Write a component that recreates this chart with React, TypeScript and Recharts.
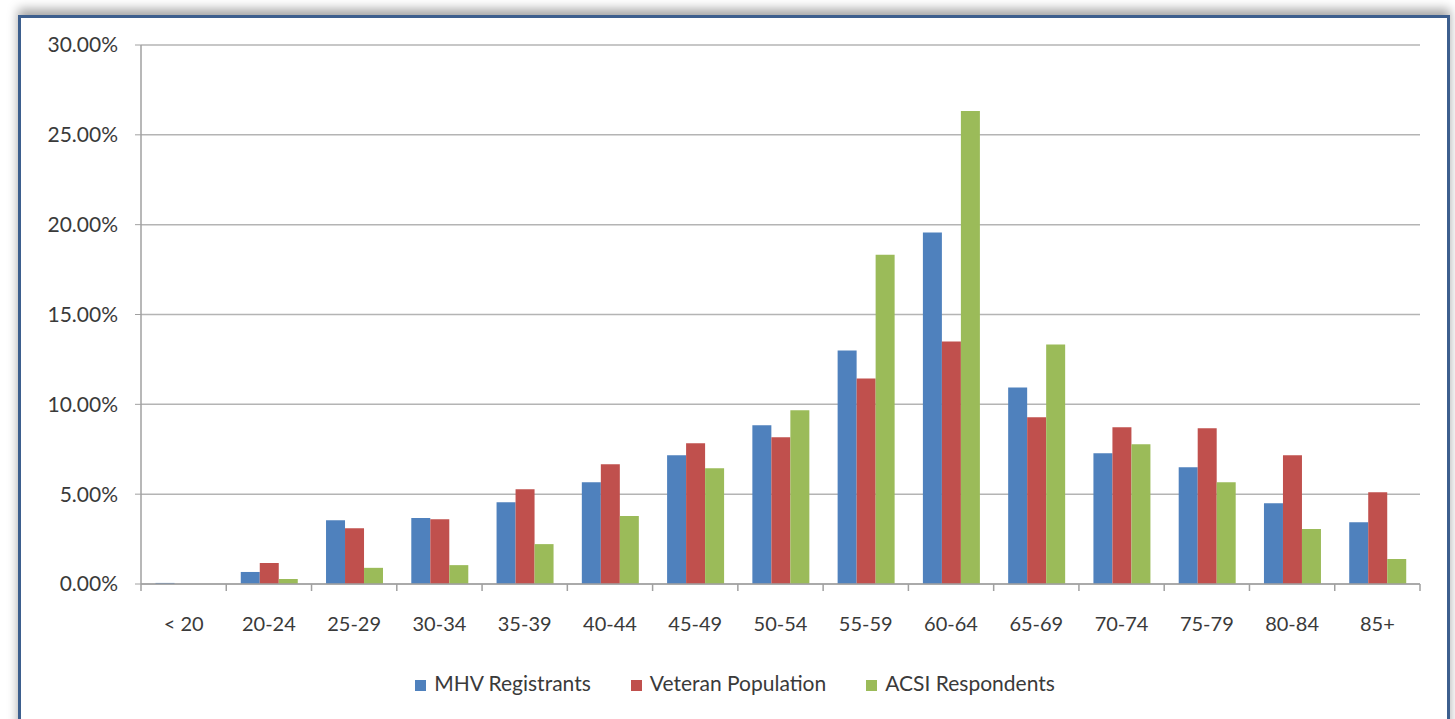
import React from 'react';
import { BarChart, Bar, XAxis, YAxis, CartesianGrid, Legend } from 'recharts';

const ageGroups = ['< 20', '20-24', '25-29', '30-34', '35-39', '40-44', '45-49', '50-54', '55-59', '60-64', '65-69', '70-74', '75-79', '80-84', '85+'];
const mhvRegistrants = [0.06, 0.67, 3.55, 3.67, 4.55, 5.67, 7.17, 8.83, 13.0, 19.56, 10.94, 7.28, 6.5, 4.5, 3.44];
const veteranPopulation = [0, 1.17, 3.1, 3.6, 5.28, 6.67, 7.83, 8.17, 11.44, 13.5, 9.28, 8.72, 8.67, 7.17, 5.11];
const acsiRespondents = [0, 0.28, 0.9, 1.05, 2.22, 3.78, 6.44, 9.67, 18.33, 26.33, 13.33, 7.78, 5.67, 3.06, 1.39];
const yTicks = [0, 5, 10, 15, 20, 25, 30];
const seriesOrder = ['mhv', 'vet', 'acsi'];

const data = ageGroups.map((age, i) => ({
  age,
  mhv: mhvRegistrants[i],
  vet: veteranPopulation[i],
  acsi: acsiRespondents[i],
}));

const font = 'Lato, "Open Sans", sans-serif';
const textColor = '#3a3a3a';
const axisColor = '#a0a0a0';

// category label plus tick marks on the category boundaries
const AgeTick = (props: any) => {
  const { x, y, payload, index } = props;
  const half = payload.offset || 0;
  const axisY = y - 33;
  const isLast = index === ageGroups.length - 1;
  return (
    <g>
      <line x1={x - half} x2={x - half} y1={axisY} y2={axisY + 7} stroke={axisColor} strokeWidth={1.5} />
      {isLast && <line x1={x + half} x2={x + half} y1={axisY} y2={axisY + 7} stroke={axisColor} strokeWidth={1.5} />}
      <text x={x} y={y} dy="0.71em" textAnchor="middle" fill={textColor} fontSize={20} fontFamily={font}>
        {payload.value}
      </text>
    </g>
  );
};

const App: React.FC = () => {
  return (
    <div style={{ position: 'absolute', left: 0, top: 0, width: 1455, height: 719, background: '#fff', overflow: 'hidden', fontFamily: font }}>
      <div
        style={{
          position: 'absolute',
          left: 18,
          top: 15,
          width: 1432,
          height: 740,
          border: '3px solid #3d5f8e',
          boxShadow: '0 -6px 10px rgba(0,0,0,0.35)',
          boxSizing: 'border-box',
        }}
      />
      <div style={{ position: 'absolute', left: 0, top: 0 }}>
        <BarChart
          width={1455}
          height={719}
          data={data}
          margin={{ top: 45, right: 35, bottom: 24, left: 0 }}
          barCategoryGap="17%"
          barGap={0}
        >
          <CartesianGrid vertical={false} stroke="#b4b4b4" strokeWidth={1.5} />
          <XAxis
            dataKey="age"
            height={86}
            tickLine={false}
            tickSize={6}
            tickMargin={27}
            axisLine={{ stroke: axisColor, strokeWidth: 1.5 }}
            tick={<AgeTick />}
            interval={0}
          />
          <YAxis
            width={141}
            domain={[0, 30]}
            ticks={yTicks}
            tickFormatter={(v: number) => `${v.toFixed(2)}%`}
            tick={{ fill: textColor, fontSize: 21, fontFamily: font }}
            tickSize={6}
            tickMargin={17}
            tickLine={{ stroke: axisColor }}
            axisLine={{ stroke: axisColor, strokeWidth: 1.5 }}
          />
          <Legend
            verticalAlign="bottom"
            iconType="square"
            iconSize={11}
            itemSorter={(item: any) => seriesOrder.indexOf(item.dataKey)}
            wrapperStyle={{ fontSize: 21, fontFamily: font, color: textColor, paddingLeft: 45 }}
            formatter={(value: string) => (
              <span style={{ color: textColor, marginLeft: 4, marginRight: 30 }}>{value}</span>
            )}
          />
          <Bar dataKey="mhv" name="MHV Registrants" fill="#4f81bd" isAnimationActive={false} />
          <Bar dataKey="vet" name="Veteran Population" fill="#c0504d" isAnimationActive={false} />
          <Bar dataKey="acsi" name="ACSI Respondents" fill="#9bbb59" isAnimationActive={false} />
        </BarChart>
      </div>
    </div>
  );
};

export default App;
